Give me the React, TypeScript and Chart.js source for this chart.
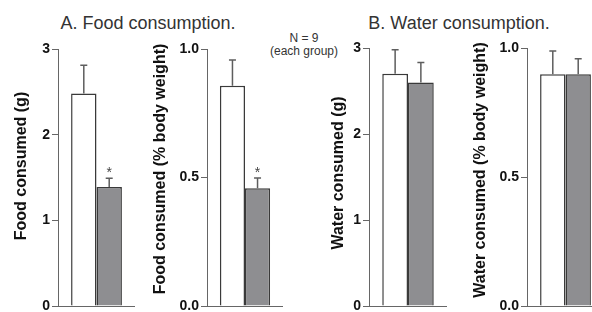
import React, { useEffect, useRef } from 'react';
import { Chart, registerables } from 'chart.js';

Chart.register(...registerables);

// ---- data ----
const groups = ['Control', 'Treated'];
const foodGrams = [2.48, 1.39];
const foodGramsErr = [0.33, 0.1];
const foodPct = [0.857, 0.458];
const foodPctErr = [0.1, 0.04];
const waterGrams = [2.7, 2.6];
const waterGramsErr = [0.28, 0.23];
const waterPct = [0.898, 0.898];
const waterPctErr = [0.09, 0.06];
const foodSignificant = [false, true];
const waterSignificant = [false, false];
const gramTicksMax = 3;
const gramTickStep = 1;
const pctTicksMax = 1.0;
const pctTickStep = 0.5;

const FONT = "'Liberation Sans', Arial, Helvetica, sans-serif";
const BAR_COLORS = ['#ffffff', '#8e8e91'];

type PanelProps = {
  canvasLeft: number;
  axisX: number;
  axisRight: number;
  areaTop: number;
  areaBottom: number;
  values: number[];
  errors: number[];
  stars: boolean[];
  yMax: number;
  yStep: number;
  decimals: number;
  yTitle: string;
  yTitleX: number;
  yTitleY: number;
};

const errorBarPlugin = {
  id: 'errorBars',
  afterDatasetsDraw(chart: any) {
    const { ctx } = chart;
    const y = chart.scales.y;
    ctx.save();
    chart.data.datasets.forEach((ds: any, i: number) => {
      const meta = chart.getDatasetMeta(i);
      const bar = meta.data[0];
      if (!bar) return;
      const v = ds.data[0];
      const e = ds.errors[0];
      const yTop = y.getPixelForValue(v + e);
      const yBar = y.getPixelForValue(v);
      ctx.strokeStyle = '#5e5e5e';
      ctx.lineWidth = 1.5;
      ctx.beginPath();
      ctx.moveTo(bar.x, yBar);
      ctx.lineTo(bar.x, yTop);
      ctx.moveTo(bar.x - 3.5, yTop);
      ctx.lineTo(bar.x + 3.5, yTop);
      ctx.stroke();
      if (ds.star) {
        ctx.fillStyle = '#444';
        ctx.font = `14px ${FONT}`;
        ctx.textAlign = 'center';
        ctx.textBaseline = 'alphabetic';
        ctx.fillText('*', bar.x, yTop - 1);
      }
    });
    ctx.restore();
  },
};

const yTitlePlugin = {
  id: 'yTitleManual',
  afterDraw(chart: any, _args: any, opts: any) {
    const { ctx } = chart;
    ctx.save();
    ctx.translate(opts.x, opts.y);
    ctx.rotate(-Math.PI / 2);
    ctx.font = `bold 16px ${FONT}`;
    ctx.fillStyle = '#111';
    ctx.textAlign = 'center';
    ctx.textBaseline = 'middle';
    ctx.fillText(opts.text, 0, 0);
    ctx.restore();
  },
};

function Panel(p: PanelProps) {
  const ref = useRef<HTMLCanvasElement | null>(null);
  const width = p.axisRight - p.canvasLeft;
  const height = 340;
  useEffect(() => {
    if (!ref.current) return;
    const axisWidth = p.axisX - p.canvasLeft;
    const chart = new Chart(ref.current, {
      type: 'bar',
      data: {
        labels: [''],
        datasets: groups.map((g, i) => ({
          label: g,
          data: [p.values[i]],
          errors: [p.errors[i]],
          star: p.stars[i],
          backgroundColor: BAR_COLORS[i],
          borderColor: '#3a3a3a',
          borderWidth: 1.5,
          barPercentage: 1,
          categoryPercentage: 0.66,
        })) as any,
      },
      options: {
        animation: false,
        responsive: false,
        devicePixelRatio: 1,
        layout: {
          padding: { top: p.areaTop, bottom: height - p.areaBottom, left: 0, right: 0 },
        },
        plugins: {
          legend: { display: false },
          tooltip: { enabled: false },
          yTitleManual: { text: p.yTitle, x: p.yTitleX - p.canvasLeft, y: p.yTitleY },
        } as any,
        scales: {
          x: {
            grid: { display: false },
            ticks: { display: false },
            border: { display: true, color: '#666', width: 1 },
            afterFit: (s: any) => {
              s.height = 0;
            },
          },
          y: {
            min: 0,
            max: p.yMax,
            ticks: {
              stepSize: p.yStep,
              padding: 2,
              color: '#111',
              font: { family: FONT, size: 14, weight: 'bold' },
              callback: (v: any) => Number(v).toFixed(p.decimals),
            },
            grid: { drawOnChartArea: false, tickLength: 6, color: '#666', lineWidth: 1 },
            border: { display: true, color: '#666', width: 1 },
            afterFit: (s: any) => {
              s.width = axisWidth;
            },
          },
        },
      } as any,
      plugins: [errorBarPlugin, yTitlePlugin],
    });
    return () => chart.destroy();
  }, []);
  return (
    <canvas
      ref={ref}
      width={width}
      height={height}
      style={{ position: 'absolute', left: p.canvasLeft, top: 0, width, height }}
    />
  );
}

export default function App() {
  const headerStyle: React.CSSProperties = {
    position: 'absolute',
    top: 12,
    fontFamily: FONT,
    fontSize: 18,
    color: '#333',
    whiteSpace: 'nowrap',
    transform: 'translateX(-50%)',
    lineHeight: '22px',
  };
  return (
    <div
      style={{
        position: 'fixed',
        left: 0,
        top: 0,
        width: 592,
        height: 312,
        overflow: 'hidden',
        background: '#fff',
      }}
    >
      <div style={{ ...headerStyle, left: 148 }}>A. Food consumption.</div>
      <div style={{ ...headerStyle, left: 459 }}>B. Water consumption.</div>
      <div
        style={{
          position: 'absolute',
          left: 304,
          top: 32,
          transform: 'translateX(-50%)',
          fontFamily: FONT,
          fontSize: 12,
          lineHeight: '13px',
          color: '#333',
          textAlign: 'center',
          whiteSpace: 'nowrap',
        }}
      >
        N = 9
        <br />
        (each group)
      </div>
      <Panel
        canvasLeft={0}
        axisX={58}
        axisRight={135}
        areaTop={49}
        areaBottom={306}
        values={foodGrams}
        errors={foodGramsErr}
        stars={foodSignificant}
        yMax={gramTicksMax}
        yStep={gramTickStep}
        decimals={0}
        yTitle="Food consumed (g)"
        yTitleX={22}
        yTitleY={166}
      />
      <Panel
        canvasLeft={140}
        axisX={207}
        axisRight={283}
        areaTop={49}
        areaBottom={306}
        values={foodPct}
        errors={foodPctErr}
        stars={foodSignificant}
        yMax={pctTicksMax}
        yStep={pctTickStep}
        decimals={1}
        yTitle="Food consumed (% body weight)"
        yTitleX={161}
        yTitleY={169}
      />
      <Panel
        canvasLeft={300}
        axisX={369}
        axisRight={447}
        areaTop={48}
        areaBottom={306}
        values={waterGrams}
        errors={waterGramsErr}
        stars={waterSignificant}
        yMax={gramTicksMax}
        yStep={gramTickStep}
        decimals={0}
        yTitle="Water consumed (g)"
        yTitleX={339}
        yTitleY={173}
      />
      <Panel
        canvasLeft={460}
        axisX={527}
        axisRight={604}
        areaTop={48}
        areaBottom={306}
        values={waterPct}
        errors={waterPctErr}
        stars={waterSignificant}
        yMax={pctTicksMax}
        yStep={pctTickStep}
        decimals={1}
        yTitle="Water consumed (% body weight)"
        yTitleX={481}
        yTitleY={170}
      />
    </div>
  );
}
